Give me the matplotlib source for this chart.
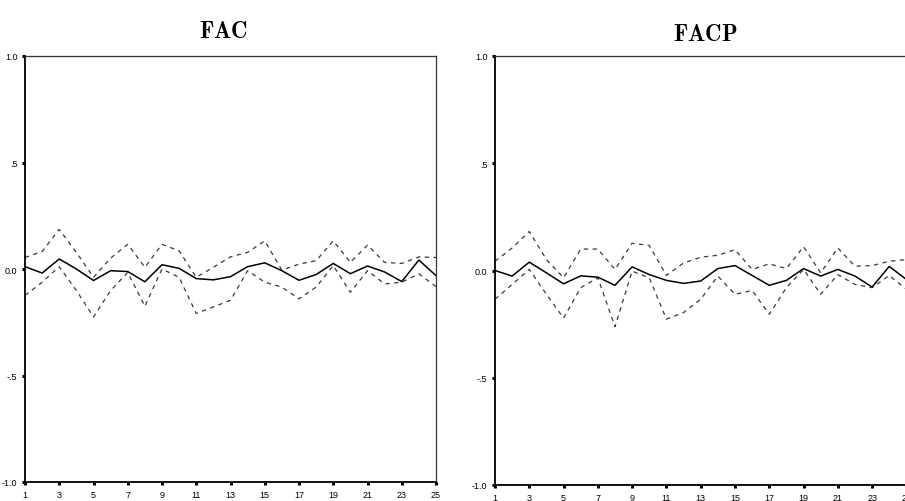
import matplotlib.pyplot as plt
import numpy as np

plt.rcParams['mathtext.fontset'] = 'cm'

lags = np.arange(1, 26)
xtick_labels = [str(k) for k in range(1, 26, 2)]
ytick_values = [-1.0, -0.5, 0.0, 0.5, 1.0]
ytick_labels = ['-1.0', '-.5', '0.0', '.5', '1.0']

# FAC: autocorrelation with upper / lower limits
fac = [0.011, -0.019, 0.047, 0.000, -0.054, -0.008, -0.012, -0.060, 0.020, 0.003,
       -0.045, -0.051, -0.036, 0.011, 0.029, -0.008, -0.053, -0.026, 0.026, -0.022,
       0.014, -0.014, -0.059, 0.042, -0.031]
fac_upper = [0.054, 0.082, 0.186, 0.078, -0.039, 0.051, 0.116, 0.008, 0.116, 0.085,
             -0.039, 0.008, 0.057, 0.078, 0.132, -0.005, 0.023, 0.039, 0.132, 0.031,
             0.112, 0.031, 0.026, 0.057, 0.054]
fac_lower = [-0.124, -0.062, 0.011, -0.101, -0.225, -0.101, -0.016, -0.175, 0.000, -0.039,
             -0.209, -0.178, -0.147, -0.008, -0.062, -0.085, -0.140, -0.085, 0.016, -0.109,
             -0.008, -0.070, -0.062, -0.023, -0.082]

# FACP: partial autocorrelation with upper / lower limits
facp = [0.000, -0.026, 0.039, -0.011, -0.062, -0.025, -0.031, -0.069, 0.017, -0.019,
        -0.046, -0.060, -0.049, 0.009, 0.023, -0.023, -0.069, -0.046, 0.009, -0.026,
        0.005, -0.026, -0.077, 0.019, -0.042]
facp_upper = [0.043, 0.105, 0.182, 0.051, -0.034, 0.100, 0.100, 0.005, 0.127, 0.117,
              -0.023, 0.035, 0.062, 0.071, 0.097, 0.005, 0.031, 0.009, 0.111, -0.011,
              0.105, 0.020, 0.023, 0.043, 0.051]
facp_lower = [-0.134, -0.065, 0.005, -0.111, -0.222, -0.080, -0.034, -0.262, -0.003, -0.034,
              -0.227, -0.196, -0.134, -0.026, -0.111, -0.093, -0.204, -0.080, 0.005, -0.111,
              -0.019, -0.065, -0.080, -0.023, -0.088]

tick_font = ['Liberation Sans Narrow', 'Liberation Sans', 'DejaVu Sans']


def draw_panel(ax, vals, upper, lower):
    ax.plot(lags, upper, color='#3a3a3a', lw=0.9, ls=(0, (3.5, 3.5)))
    ax.plot(lags, lower, color='#3a3a3a', lw=0.9, ls=(0, (3.5, 3.5)))
    ax.plot(lags, vals, color='black', lw=1.1)
    ax.set_xlim(1, 25)
    ax.set_ylim(-1, 1)
    ax.set_xticks(range(1, 26, 2))
    ax.set_xticklabels(xtick_labels, fontsize=6.5, family=tick_font)
    ax.set_yticks(ytick_values)
    ax.set_yticklabels(ytick_labels, fontsize=6.5, family=tick_font)
    ax.tick_params(axis='both', length=2.5, width=2.2, direction='out', pad=3)
    for side in ['left', 'bottom']:
        ax.spines[side].set_linewidth(1.3)
    for side in ['top', 'right']:
        ax.spines[side].set_linewidth(0.9)
        ax.spines[side].set_color('#333333')


fig = plt.figure(figsize=(9.05, 5.02), dpi=100)
ax1 = fig.add_axes([25 / 905, 19 / 502, 411 / 905, 426 / 502])
ax2 = fig.add_axes([495 / 905, 16 / 502, 411.4 / 905, 429 / 502])

draw_panel(ax1, fac, fac_upper, fac_lower)
draw_panel(ax2, facp, facp_upper, facp_lower)

fig.text(223 / 905, 1 - 32 / 502, r'$\mathbf{FAC}$', ha='center', va='center', fontsize=16.5)
fig.text(705 / 905, 1 - 35 / 502, r'$\mathbf{FACP}$', ha='center', va='center', fontsize=16.5)

fig.savefig('out.png', dpi=100, facecolor='white')
